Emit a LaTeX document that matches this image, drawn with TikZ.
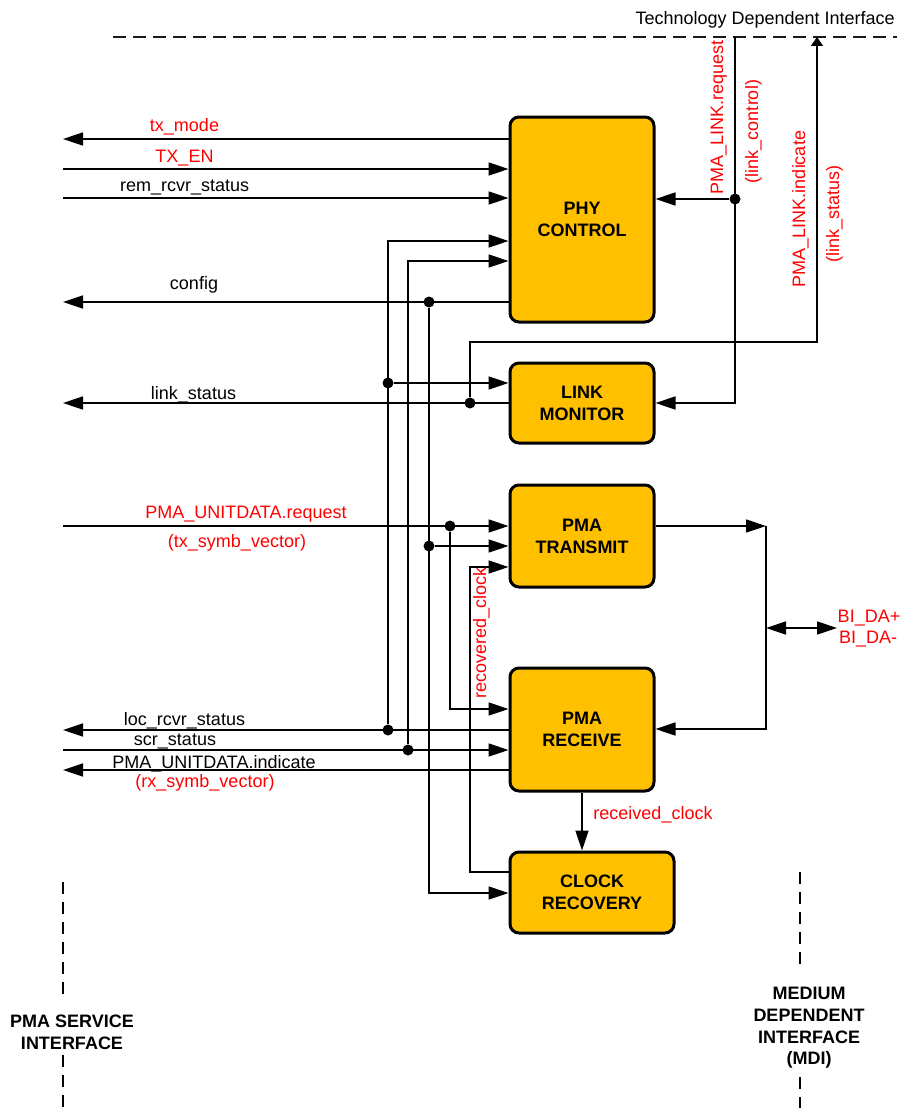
\documentclass[tikz,border=0pt]{standalone}
\usepackage{fontspec}
\setmainfont{Liberation Sans}
\usetikzlibrary{arrows.meta}
\definecolor{boxfill}{HTML}{FFC000}
\definecolor{sigred}{HTML}{FF0000}
\begin{document}
\begin{tikzpicture}[x=1pt,y=-1pt,
  blk/.style={draw=black, line width=3pt, fill=boxfill, rounded corners=9pt, align=center,
    font=\fontsize{18}{22}\selectfont\bfseries, inner sep=0pt},
  conn/.style={line width=1.5pt, draw=black},
  arr/.style={conn, -{Triangle[length=20pt,width=13pt]}},
  darr/.style={conn, {Triangle[length=20pt,width=13pt]}-{Triangle[length=20pt,width=13pt]}},
  dot/.style={circle, fill=black, inner sep=0pt, minimum size=11pt},
  lbl/.style={font=\fontsize{18}{22}\selectfont, inner sep=0pt, anchor=base},
  rlbl/.style={lbl, text=sigred},
  blbl/.style={font=\fontsize{18}{21.7}\selectfont\bfseries, inner sep=0pt, align=center},
  ifc/.style={line width=1.8pt, draw=black!90, dash pattern=on 13pt off 7pt},
  vifc/.style={line width=1.3pt, draw=black, dash pattern=on 12pt off 8pt}
]
\fill[white] (0,0) rectangle (901,1108);
\useasboundingbox (0,0) rectangle (901,1108);

% blocks
\node[blk, minimum width=144pt, minimum height=205pt] (phy) at (582,219.5) {PHY\\CONTROL};
\node[blk, minimum width=144pt, minimum height=80pt] (lm) at (582,403) {LINK\\MONITOR};
\node[blk, minimum width=144pt, minimum height=102pt] (pt) at (582,536) {PMA\\TRANSMIT};
\node[blk, minimum width=144pt, minimum height=123pt] (pr) at (582,729.5) {PMA\\RECEIVE};
\node[blk, minimum width=164pt, minimum height=81pt] (cr) at (592,892.5) {CLOCK\\RECOVERY};

% junction dots
\node[dot] (dA) at (388,383) {};
\node[dot] (dB) at (388,730) {};
\node[dot] (dC) at (408,750) {};
\node[dot] (dD) at (429,302) {};
\node[dot] (dE) at (429,546) {};
\node[dot] (dF) at (470,403) {};
\node[dot] (dG) at (450,526) {};
\node[dot] (dH) at (735,199) {};

% free ends and helper coordinates
\coordinate (tdL) at (113,37);
\coordinate (tdR) at (897,37);
\coordinate (lreq) at (735,37);
\coordinate (lind) at (817,37);
\coordinate (txm) at (63,139);
\coordinate (txen) at (63,169);
\coordinate (rem) at (63,198);
\coordinate (cfg) at (63,302);
\coordinate (lst) at (63,403);
\coordinate (ureq) at (63,526);
\coordinate (loc) at (63,730);
\coordinate (scr) at (63,750);
\coordinate (uind) at (63,770);
\coordinate (y241) at (0,241);
\coordinate (y261) at (0,261);
\coordinate (y342) at (0,342);
\coordinate (y709) at (0,709);
\coordinate (y872) at (0,872);
\coordinate (y893) at (0,893);
\coordinate (rc) at (470,567);
\coordinate (mdA) at (766,526);
\coordinate (mdB) at (766,729);
\coordinate (mdC) at (766,628);
\coordinate (bida) at (837,628);

% interface lines
\draw[ifc] (tdL) -- (tdR);
\draw[vifc] (63,882) -- (63,997);
\draw[vifc] (63,1055) -- (63,1108);
\draw[vifc] (800,872) -- (800,967);
\draw[vifc] (800,1077) -- (800,1108);

% PHY CONTROL connections
\draw[arr] (txm -| phy.west) -- (txm);
\draw[arr] (txen) -- (txen -| phy.west);
\draw[arr] (rem) -- (rem -| phy.west);
\draw[arr] (dB) |- (phy.west |- y241);
\draw[arr] (dC) |- (phy.west |- y261);
\draw[arr] (cfg -| phy.west) -- (cfg);
\draw[arr] (dD) |- (cr.west |- y893);
\draw[arr] (dH) -- (dH -| phy.east);

% LINK MONITOR connections
\draw[arr] (dA) -- (dA -| lm.west);
\draw[arr] (lst -| lm.west) -- (lst);
\draw[conn, -{Triangle[length=9pt,width=12pt]}] (dF) |- (lind |- y342) -- (lind);
\draw[arr] (lreq) |- (lm.east);

% PMA TRANSMIT connections
\draw[arr] (ureq) -- (ureq -| pt.west);
\draw[arr] (dE) -- (dE -| pt.west);
\draw[arr] (dG) |- (pr.west |- y709);
\draw[arr] (cr.west |- y872) -| (rc) -- (rc -| pt.west);
\draw[arr] (pt.east |- mdA) -- (mdA);
\draw[arr] (mdA) -- (mdB) -- (mdB -| pr.east);
\draw[darr] (mdC) -- (bida);

% PMA RECEIVE connections
\draw[arr] (loc -| pr.west) -- (loc);
\draw[arr] (scr) -- (scr -| pr.west);
\draw[arr] (uind -| pr.west) -- (uind);
\draw[arr] (pr.south) -- (pr.south |- cr.north);

% labels
\node[lbl, anchor=base east] (tdi) at (895,25) {Technology Dependent Interface};
\node[rlbl] (ltxm) at (184.5,131) {tx\_mode};
\node[rlbl] (ltxen) at (184.5,162) {TX\_EN};
\node[lbl] (lrem) at (184.7,191) {rem\_rcvr\_status};
\node[lbl] (lcfg) at (194,289) {config};
\node[lbl] (llst) at (193.5,399) {link\_status};
\node[rlbl] (lureq) at (246,518) {PMA\_UNITDATA.request};
\node[rlbl] (ltxv) at (237,547) {(tx\_symb\_vector)};
\node[lbl] (lloc) at (184.5,725) {loc\_rcvr\_status};
\node[lbl] (lscr) at (175,745) {scr\_status};
\node[lbl] (luind) at (214,768) {PMA\_UNITDATA.indicate};
\node[rlbl] (lrxv) at (205,787) {(rx\_symb\_vector)};
\node[rlbl] (lrcl) at (653,819) {received\_clock};
\node[rlbl] (lbp) at (869,622) {BI\_DA+};
\node[rlbl] (lbm) at (868,643) {BI\_DA-};
\node[rlbl, rotate=90] (llreq) at (723,117.5) {PMA\_LINK.request};
\node[rlbl, rotate=90] (llctl) at (758,131.5) {(link\_control)};
\node[rlbl, rotate=90] (llind) at (805,209) {PMA\_LINK.indicate};
\node[rlbl, rotate=90] (llsts) at (839,214) {(link\_status)};
\node[rlbl, rotate=90] (lrecl) at (486,633) {recovered\_clock};
\node[blbl] (psi) at (72,1032) {PMA SERVICE\\INTERFACE};
\node[blbl] (mdi) at (809,1028) {MEDIUM\\DEPENDENT\\INTERFACE\\(MDI)};
\end{tikzpicture}
\end{document}
